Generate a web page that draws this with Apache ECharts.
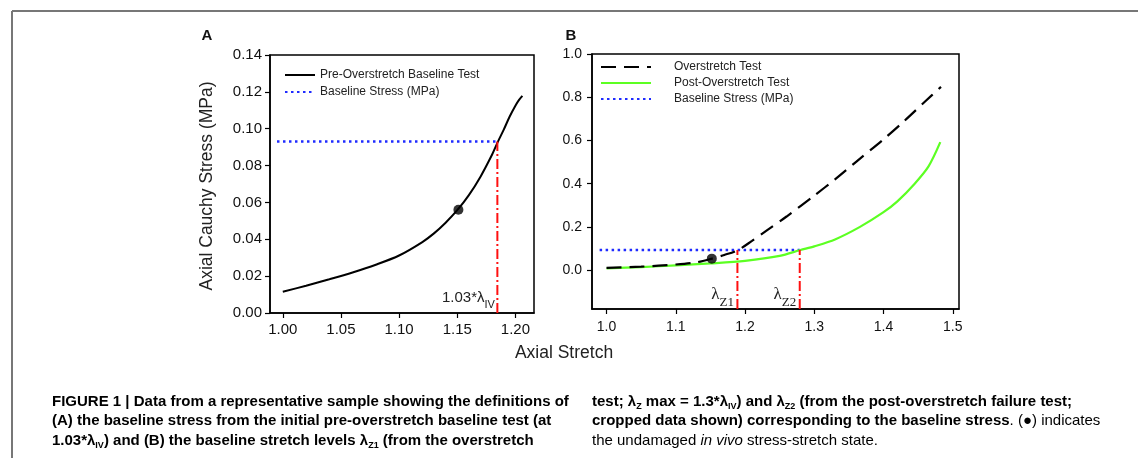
<!DOCTYPE html>
<html>
<head>
<meta charset="utf-8">
<script src="https://cdn.jsdelivr.net/npm/echarts@6/dist/echarts.min.js"></script>
<style>
  html, body { margin: 0; padding: 0; background: #fff; }
  #chart { width: 1138px; height: 458px; }
</style>
</head>
<body>
<div id="chart"></div>
<script>
// ---- panel A: pre-overstretch baseline test ----
const stretchA = [1.000, 1.020, 1.040, 1.060, 1.080, 1.100, 1.120, 1.130, 1.140, 1.150, 1.160, 1.170, 1.180, 1.185, 1.190, 1.195, 1.200, 1.203, 1.206];
const stressA  = [0.0115, 0.0148, 0.0183, 0.0220, 0.0262, 0.0312, 0.0385, 0.0432, 0.0490, 0.0558, 0.0640, 0.0740, 0.0860, 0.0930, 0.0995, 0.1065, 0.1125, 0.1155, 0.1178];
const invivoA = [1.151, 0.056];
const lambdaA = 1.1845;          // 1.03 * lambda_IV
const baselineStress = 0.093;
const baselineStartA = 0.995;

// ---- panel B: overstretch / post-overstretch ----
const stretchOver = [1.000, 1.050, 1.100, 1.130, 1.152, 1.170, 1.190, 1.210, 1.230, 1.260, 1.300, 1.330, 1.360, 1.400, 1.430, 1.460, 1.483];
const stressOver  = [0.010, 0.016, 0.026, 0.036, 0.053, 0.070, 0.093, 0.135, 0.180, 0.248, 0.345, 0.420, 0.500, 0.605, 0.690, 0.780, 0.848];
const stretchPost = [1.000, 1.050, 1.100, 1.150, 1.200, 1.250, 1.280, 1.300, 1.330, 1.366, 1.400, 1.420, 1.445, 1.465, 1.482];
const stressPost  = [0.008, 0.014, 0.022, 0.031, 0.043, 0.066, 0.093, 0.110, 0.142, 0.200, 0.268, 0.318, 0.400, 0.480, 0.592];
const invivoB = [1.152, 0.053];
const lambdaZ1 = 1.189;
const lambdaZ2 = 1.279;
const baselineStartB = 0.99;
const yMinB = -0.18;

// tick labels
const ticksAx = [1.00, 1.05, 1.10, 1.15, 1.20];
const ticksAy = [0, 0.02, 0.04, 0.06, 0.08, 0.10, 0.12, 0.14];
const ticksBx = [1.0, 1.1, 1.2, 1.3, 1.4, 1.5];
const ticksBy = [0.0, 0.2, 0.4, 0.6, 0.8, 1.0];

const FONT = '"Liberation Sans", Arial, sans-serif';
const SERIF = '"Liberation Serif", "DejaVu Serif", serif';

function zip(xs, ys) {
  return xs.map((x, i) => [x, ys[i]]);
}

function valueAxis(gridIndex, min, max, ticks, digits, fontSize, margin) {
  return {
    type: 'value', gridIndex: gridIndex, min: min, max: max,
    axisLine: { show: true, onZero: false, lineStyle: { color: '#000', width: 1.5 } },
    axisTick: { show: true, length: 5, customValues: ticks, lineStyle: { color: '#000', width: 1.2 } },
    axisLabel: {
      customValues: ticks, margin: margin, color: '#111', fontSize: fontSize, fontFamily: FONT,
      formatter: v => v.toFixed(digits)
    },
    splitLine: { show: false }
  };
}

const blueDots = { color: '#1f2bff', width: 2.5, type: [2.5, 3.5] };
const redDashDot = { color: '#ff1010', width: 2, type: [10, 3, 2, 3] };

// red marker lines: tiny invisible symbols so the end-point label is drawn
function markerLine(name, xi, yi, x, y0, y1, label) {
  return {
    name: name, type: 'line', xAxisIndex: xi, yAxisIndex: yi,
    symbol: 'circle', symbolSize: 1, showSymbol: true,
    itemStyle: { color: 'rgba(0,0,0,0)' },
    lineStyle: redDashDot,
    data: [{ value: [x, y0], label: label }, [x, y1]]
  };
}

function lambdaLabel(text) {
  return {
    show: true, position: 'left', distance: 3, offset: [0, -14],
    formatter: text,
    rich: {
      l: { fontFamily: SERIF, fontSize: 17, color: '#222', lineHeight: 20, verticalAlign: 'middle' },
      s: { fontFamily: SERIF, fontSize: 13, color: '#222', lineHeight: 20, verticalAlign: 'bottom', padding: [0, 0, -4, 0] }
    }
  };
}

const capRich = {
  b: { fontFamily: FONT, fontWeight: 'bold', fontSize: 15, color: '#111', lineHeight: 19 },
  bs: { fontFamily: FONT, fontWeight: 'bold', fontSize: 9, color: '#111', lineHeight: 19, verticalAlign: 'bottom' },
  n: { fontFamily: FONT, fontSize: 15, color: '#111', lineHeight: 19 },
  i: { fontFamily: FONT, fontStyle: 'italic', fontSize: 15, color: '#111', lineHeight: 19 }
};

function capLine(x, y, text) {
  return { type: 'text', x: x, y: y, style: { text: text, rich: capRich, verticalAlign: 'middle', align: 'left' } };
}

const chart = echarts.init(document.getElementById('chart'), null, { renderer: 'canvas' });

chart.setOption({
  animation: false,
  backgroundColor: '#fff',
  grid: [
    { left: 270, right: 604, top: 55, bottom: 145, show: true, borderColor: '#000', borderWidth: 1.5 },
    { left: 592, right: 179, top: 54, bottom: 149, show: true, borderColor: '#000', borderWidth: 1.5 }
  ],
  xAxis: [
    valueAxis(0, 0.989, 1.216, ticksAx, 2, 15, 9),
    valueAxis(1, 0.979, 1.509, ticksBx, 1, 14, 11)
  ],
  yAxis: [
    valueAxis(0, 0, 0.14, ticksAy, 2, 15, 8),
    valueAxis(1, yMinB, 1.0, ticksBy, 1, 14, 10)
  ],
  legend: [
    {
      left: 284, top: 69, orient: 'vertical', padding: 0, itemGap: 5,
      itemWidth: 30, itemHeight: 14, selectedMode: false,
      itemStyle: { opacity: 0 },
      textStyle: { fontFamily: FONT, fontSize: 12, color: '#222' },
      data: ['Pre-Overstretch Baseline Test', 'Baseline Stress (MPa)']
    },
    {
      left: 600, top: 61, orient: 'vertical', padding: 0, itemGap: 4,
      itemWidth: 50, itemHeight: 14, selectedMode: false,
      itemStyle: { opacity: 0 },
      textStyle: { fontFamily: FONT, fontSize: 12, color: '#222', padding: [0, 0, 0, 18] },
      data: ['Overstretch Test', 'Post-Overstretch Test', 'Baseline Stress (MPa)']
    }
  ],
  series: [
    // panel A
    {
      name: 'Baseline Stress (MPa)', type: 'line', xAxisIndex: 0, yAxisIndex: 0, symbol: 'none',
      lineStyle: blueDots, color: blueDots.color,
      data: [[baselineStartA, baselineStress], [lambdaA, baselineStress]]
    },
    {
      name: 'Pre-Overstretch Baseline Test', type: 'line', xAxisIndex: 0, yAxisIndex: 0, symbol: 'none',
      smooth: 0.3, color: '#000', lineStyle: { color: '#000', width: 2 },
      data: zip(stretchA, stressA)
    },
    markerLine('lambdaA', 0, 0, lambdaA, 0, baselineStress, {
      show: true, position: 'left', distance: 2, offset: [0, -15],
      formatter: '{n|1.03*λ}{s|IV}',
      rich: {
        n: { fontFamily: FONT, fontSize: 15, color: '#222', lineHeight: 18 },
        s: { fontFamily: FONT, fontSize: 11, color: '#222', lineHeight: 18, verticalAlign: 'bottom', padding: [0, 0, -3, 0] }
      }
    }),
    {
      name: 'invivoA', type: 'scatter', xAxisIndex: 0, yAxisIndex: 0, symbolSize: 10, z: 5,
      itemStyle: { color: '#000' }, data: [invivoA]
    },
    // panel B
    {
      name: 'Baseline Stress (MPa)', type: 'line', xAxisIndex: 1, yAxisIndex: 1, symbol: 'none',
      lineStyle: blueDots, color: blueDots.color,
      data: [[baselineStartB, baselineStress], [lambdaZ2, baselineStress]]
    },
    {
      name: 'Post-Overstretch Test', type: 'line', xAxisIndex: 1, yAxisIndex: 1, symbol: 'none',
      smooth: 0.3, color: '#5cff22', lineStyle: { color: '#5cff22', width: 2.2 },
      data: zip(stretchPost, stressPost)
    },
    {
      name: 'Overstretch Test', type: 'line', xAxisIndex: 1, yAxisIndex: 1, symbol: 'none',
      smooth: 0.3, color: '#000', lineStyle: { color: '#000', width: 2.2, type: [15, 8] },
      data: zip(stretchOver, stressOver)
    },
    markerLine('lambdaZ1', 1, 1, lambdaZ1, yMinB, baselineStress, lambdaLabel('{l|λ}{s|Z1}')),
    markerLine('lambdaZ2', 1, 1, lambdaZ2, yMinB, baselineStress, lambdaLabel('{l|λ}{s|Z2}')),
    {
      name: 'invivoB', type: 'scatter', xAxisIndex: 1, yAxisIndex: 1, symbolSize: 10, z: 5,
      itemStyle: { color: '#000' }, data: [invivoB]
    }
  ],
  graphic: [
    // figure frame
    { type: 'line', shape: { x1: 12, y1: 11, x2: 1138, y2: 11 }, style: { stroke: '#777', lineWidth: 2 } },
    { type: 'line', shape: { x1: 12, y1: 11, x2: 12, y2: 458 }, style: { stroke: '#777', lineWidth: 2 } },
    // panel letters
    { type: 'text', x: 207, y: 36, style: { text: 'A', font: 'bold 15px ' + FONT, fill: '#111', align: 'center', verticalAlign: 'middle' } },
    { type: 'text', x: 571, y: 36, style: { text: 'B', font: 'bold 15px ' + FONT, fill: '#111', align: 'center', verticalAlign: 'middle' } },
    // axis titles
    {
      type: 'text', x: 207, y: 186, rotation: Math.PI / 2,
      style: { text: 'Axial Cauchy Stress (MPa)', font: '17.5px ' + FONT, fill: '#222', align: 'center', verticalAlign: 'middle' }
    },
    { type: 'text', x: 564, y: 353, style: { text: 'Axial Stretch', font: '17.5px ' + FONT, fill: '#222', align: 'center', verticalAlign: 'middle' } },
    // caption
    capLine(52, 402, '{b|FIGURE 1 | Data from a representative sample showing the definitions of}'),
    capLine(52, 421, '{b|(A) the baseline stress from the initial pre-overstretch baseline test (at}'),
    capLine(52, 441, '{b|1.03*λ}{bs|IV}{b|) and (B) the baseline stretch levels λ}{bs|Z1}{b| (from the overstretch}'),
    capLine(592, 402, '{b|test; λ}{bs|Z}{b| max = 1.3*λ}{bs|IV}{b|) and λ}{bs|Z2}{b| (from the post-overstretch failure test;}'),
    capLine(592, 421, '{b|cropped data shown) corresponding to the baseline stress}{n|. (●) indicates}'),
    capLine(592, 441, '{n|the undamaged }{i|in vivo}{n| stress-stretch state.}')
  ]
});
</script>
</body>
</html>
